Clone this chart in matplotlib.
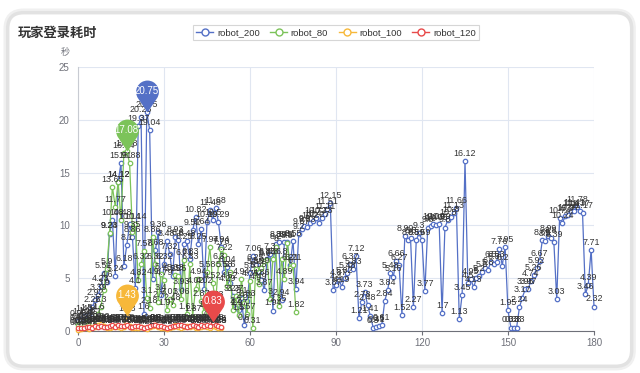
import numpy as np
import matplotlib
matplotlib.use("Agg")
import matplotlib.pyplot as plt
from matplotlib.path import Path
from matplotlib.patches import FancyBboxPatch
from matplotlib.lines import Line2D

plt.rcParams['font.family'] = ['Liberation Sans', 'Noto Sans CJK SC', 'DejaVu Sans']

title = "玩家登录耗时"
y_name = "秒"
series_names = ["robot_200", "robot_80", "robot_100", "robot_120"]
colors = ["#5470c6", "#7cc35a", "#f7b83a", "#e84a4a"]

robot_200 = [0.98, 1.12, 1.43, 1.18, 1.54, 2.26, 2.92, 3.39, 4.23, 5.51,
             4.6, 9.23, 10.48, 5.24, 14.12, 15.91, 6.18, 8.1, 10.14, 8.86,
             4.1, 19.37, 20.25, 1.6, 20.75, 19.04, 4.9, 7.68, 9.36, 3.4,
             6.32, 8.48, 7.32, 5.25, 8.93, 8.6, 3.93, 8.25, 8.48, 6.83,
             9.52, 10.82, 8.25, 9.64, 4.02, 10.29, 11.48, 10.5, 11.68, 10.29,
             7.94, 5.58, 6.04, 4.52, 3.27, 2.2, 1.97, 3.1, 0.6, 2.83,
             5.5, 7.06, 6.25, 5.55, 4.86, 3.87, 6.85, 7.3, 1.94, 8.2,
             8.39, 2.94, 8.45, 8.41, 6.21, 8.55, 3.94, 9.2, 9.67, 9.9,
             9.83, 10.2, 10.4, 10.72, 10.27, 10.73, 11.11, 11.51, 12.15, 3.87,
             4.4, 4.87, 4.19, 5.02, 5.48, 6.37, 5.83, 7.12, 1.21, 2.78,
             3.73, 2.48, 1.41, 0.3, 0.41, 0.5, 0.61, 2.84, 3.84, 5.48,
             5.16, 6.66, 6.27, 1.52, 8.99, 8.6, 8.8, 2.27, 8.59, 9.3,
             8.59, 3.77, 9.8, 9.9, 10.09, 10.05, 10.09, 1.7, 9.8, 10.5,
             10.8, 11.13, 11.66, 1.13, 3.45, 16.12, 4.5, 4.95, 4.13, 5.0,
             5.2, 5.6, 6.0, 5.8, 6.5, 6.3, 6.53, 7.76, 6.2, 7.95,
             1.95, 0.33, 0.33, 0.33, 2.24, 3.17, 3.95, 3.97, 4.74, 5.26,
             5.92, 6.67, 8.65, 8.5, 8.99, 8.8, 8.39, 3.03, 10.74, 10.24,
             10.9, 10.97, 11.4, 11.41, 11.78, 11.37, 11.17, 3.46, 4.39, 7.71,
             2.32]

robot_80 = [0.55, 0.62, 0.7, 0.9, 1.0, 0.8, 1.1, 1.6, 2.3, 3.9,
            5.9, 9.24, 13.65, 11.77, 14.12, 10.48, 16.84, 17.08, 15.88, 9.35,
            10.14, 4.82, 6.32, 7.58, 3.1, 2.18, 8.86, 6.32, 2.7, 5.4,
            4.79, 1.97, 3.01, 2.48, 5.33, 5.25, 3.06, 6.71, 1.61, 6.33,
            1.37, 4.02, 4.94, 2.87, 1.8, 5.58, 7.94, 4.52, 2.73, 6.3,
            7.78, 7.22, 4.29, 5.6, 2.0, 3.27, 1.5, 4.94, 2.62, 1.57,
            4.75, 0.31, 5.85, 4.49, 5.99, 6.6, 6.74, 3.0, 6.8, 8.0,
            2.35, 6.8, 4.89, 8.3, 6.0, 6.21, 1.82]

robot_100 = [0.12, 0.18, 0.25, 0.3, 0.22, 0.35, 0.4, 0.55, 0.62, 0.45,
             0.3, 0.28, 0.35, 0.5, 0.42, 0.3, 0.38, 1.43, 0.45, 0.3,
             0.25, 0.33, 0.4, 0.28, 0.22, 0.35, 0.5, 0.6, 0.42, 0.3,
             0.25, 0.2, 0.32, 0.4, 0.55, 0.35, 0.3, 0.42, 0.5, 0.38,
             0.45, 0.3, 0.28, 0.4, 0.52, 0.35, 0.3, 0.45, 0.38, 0.25,
             0.3]

robot_120 = [0.25, 0.3, 0.28, 0.35, 0.4, 0.3, 0.45, 0.38, 0.5, 0.42,
             0.35, 0.48, 0.55, 0.4, 0.6, 0.45, 0.52, 0.58, 0.4, 0.35,
             0.5, 0.45, 0.38, 0.3, 0.42, 0.48, 0.55, 0.6, 0.5, 0.45,
             0.35, 0.3, 0.4, 0.52, 0.45, 0.55, 0.6, 0.48, 0.42, 0.5,
             0.58, 0.45, 0.4, 0.55, 0.5, 0.6, 0.48, 0.83, 0.55, 0.45,
             0.4]

series = [robot_200, robot_80, robot_100, robot_120]
x_ticks = [0, 30, 60, 90, 120, 150, 180]
y_ticks = [0, 5, 10, 15, 20, 25]

fig = plt.figure(figsize=(6.4, 3.73), dpi=100)
fig.patch.set_facecolor("white")

# card frame with shadow
for col, lw in [("#f0f0f0", 6), ("#e2e2e2", 2.5)]:
    fig.patches.append(FancyBboxPatch((0.012, 0.018), 0.975, 0.948,
                                      boxstyle="round,pad=0,rounding_size=0.025",
                                      mutation_aspect=640 / 373,
                                      transform=fig.transFigure, facecolor="white",
                                      edgecolor=col, lw=lw, zorder=-10))

ax = fig.add_axes([78 / 640, 1 - 331 / 373, (594 - 78) / 640, (331 - 67) / 373])
ax.set_xlim(0, 180)
ax.set_ylim(0, 25)
ax.set_xticks(x_ticks)
ax.set_yticks(y_ticks)
ax.grid(True, color="#e0e6f1", lw=0.8)
ax.set_axisbelow(True)
for s in ["top", "right"]:
    ax.spines[s].set_visible(False)
ax.spines["left"].set_color("#c8cbd2")
ax.spines["bottom"].set_color("#6e7079")
ax.tick_params(axis="y", length=0, labelsize=7, labelcolor="#6e7079", pad=6)
ax.tick_params(axis="x", length=3, color="#6e7079", labelsize=7, labelcolor="#6e7079", pad=2)


def pin_path():
    d, r = 1.8, 1.0
    beta = np.degrees(np.arccos(r / d))
    arc = Path.arc(-90 + beta, 270 - beta)
    verts = [(0, 0)] + [(vx * r, vy * r + d) for vx, vy in arc.vertices] + [(0, 0), (0, 0)]
    codes = [Path.MOVETO] + [Path.LINETO] + list(arc.codes[1:]) + [Path.LINETO, Path.CLOSEPOLY]
    return Path(verts, codes)


pin = pin_path()

for k, (vals, col) in enumerate(zip(series, colors)):
    xs = np.arange(len(vals))
    ax.plot(xs, vals, color=col, lw=0.9, marker="o", markersize=3.2,
            markerfacecolor="white", markeredgecolor=col, markeredgewidth=0.9,
            zorder=3 + k, clip_on=False)
    for xi, v in zip(xs, vals):
        ax.annotate(f"{v:g}", (xi, v), xytext=(0, 2.2), textcoords="offset points",
                    ha="center", va="bottom", fontsize=6.4, color="#333333",
                    zorder=8 + k, annotation_clip=False)

for k, (vals, col) in enumerate(zip(series, colors)):
    i = int(np.argmax(vals))
    v = vals[i]
    ax.plot([i], [v], marker=pin, markersize=46, color=col, markeredgewidth=0,
            zorder=20, clip_on=False)
    ax.annotate(f"{v:g}", (i, v), xytext=(0, 15), textcoords="offset points",
                ha="center", va="center", fontsize=7, color="white", zorder=21,
                annotation_clip=False)

fig.text(18 / 640, 1 - 33 / 373, title, fontsize=9.5, fontweight="bold",
         color="#333333", ha="left", va="center",
         family=["Noto Sans CJK SC", "DejaVu Sans"])
fig.text(65 / 640, 1 - 52 / 373, y_name, fontsize=6.5, color="#6e7079",
         ha="center", va="center", family=["Noto Sans CJK SC", "DejaVu Sans"])

handles = [Line2D([], [], color=c, lw=1, marker="o", markersize=5,
                  markerfacecolor="white", markeredgecolor=c, markeredgewidth=1)
           for c in colors]
leg = fig.legend(handles, series_names, loc="center", ncol=4,
                 bbox_to_anchor=(336 / 640, 1 - 32.5 / 373), fontsize=6.8,
                 frameon=True, fancybox=False, edgecolor="#cccccc",
                 handlelength=1.8, handletextpad=0.4, columnspacing=1.1,
                 borderpad=0.35, labelcolor="#333333")
leg.get_frame().set_linewidth(0.8)

fig.savefig("out.png", dpi=100, facecolor="white")
